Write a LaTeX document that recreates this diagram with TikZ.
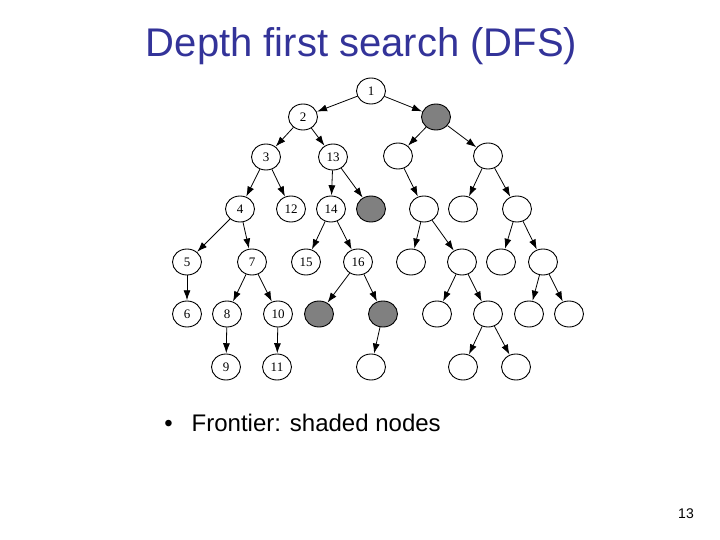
\documentclass[tikz,border=0pt]{standalone}
\usepackage{fontspec}
\setmainfont{Liberation Sans}
\newfontfamily\treefont{Liberation Serif}
\usetikzlibrary{shapes.geometric,arrows.meta}
\definecolor{titleblue}{RGB}{51,51,153}
\definecolor{shade}{RGB}{128,128,128}
\tikzset{
  tn/.style={ellipse,draw=black,line width=0.9pt,minimum width=29pt,minimum height=26pt,inner sep=0pt,font=\treefont\fontsize{13}{13}\selectfont,fill=white},
  sh/.style={tn,fill=shade},
  edge/.style={line width=0.8pt,-{Latex[length=10pt,width=7pt]},shorten >=0.3pt},
  txt/.style={inner sep=0pt,anchor=base west}
}
\begin{document}
\begin{tikzpicture}[x=1pt,y=-1pt]
\useasboundingbox (0,0) rectangle (720,540);
% title
\node[inner sep=0pt,anchor=base,text=titleblue,font=\fontsize{40}{48}\selectfont] (title) at (361.5,56.5) {Depth first search (DFS)};
% nodes
\node[tn] (n1) at (371,91) {1};
\node[tn] (n2) at (303,117) {2};
\node[sh] (gA) at (436,117) {};
\node[tn] (n3) at (266,157) {3};
\node[tn] (n13) at (333,157) {13};
\node[tn] (a1) at (398,156) {};
\node[tn] (a2) at (488,156) {};
\node[tn] (n4) at (240,209) {4};
\node[tn] (n12) at (291,209) {12};
\node[tn] (n14) at (331,209) {14};
\node[sh] (gB) at (371,209) {};
\node[tn] (b1) at (424,209) {};
\node[tn] (b2) at (463,209) {};
\node[tn] (b3) at (517,209) {};
\node[tn] (n5) at (187,262) {5};
\node[tn] (n7) at (252,262) {7};
\node[tn] (n15) at (306,262) {15};
\node[tn] (n16) at (358,262) {16};
\node[tn] (c1) at (411,262) {};
\node[tn] (c2) at (462,262) {};
\node[tn] (c3) at (501,262) {};
\node[tn] (c4) at (543,262) {};
\node[tn] (n6) at (187,314) {6};
\node[tn] (n8) at (227,314) {8};
\node[tn] (n10) at (278,314) {10};
\node[sh] (gC) at (319,314) {};
\node[sh] (gD) at (383,314) {};
\node[tn] (d1) at (437,314) {};
\node[tn] (d2) at (488,314) {};
\node[tn] (d3) at (529,314) {};
\node[tn] (d4) at (569,314) {};
\node[tn] (n9) at (226,367) {9};
\node[tn] (n11) at (277,367) {11};
\node[tn] (e1) at (371,367) {};
\node[tn] (e2) at (463,367) {};
\node[tn] (e3) at (516,367) {};
% edges
\foreach \a/\b in {n1/n2,n1/gA,n2/n3,n2/n13,n3/n4,n3/n12,n13/n14,n13/gB,gA/a1,gA/a2,a1/b1,a2/b2,a2/b3,n4/n5,n4/n7,n14/n15,n14/n16,b1/c1,b1/c2,b3/c3,b3/c4,n5/n6,n7/n8,n7/n10,n16/gC,n16/gD,c2/d1,c2/d2,c4/d3,c4/d4,n8/n9,n10/n11,gD/e1,d2/e2,d2/e3}
  \draw[edge] (\a) -- (\b);
% bullet text
\node[inner sep=0pt,anchor=base,font=\fontsize{24}{28}\selectfont] (bul) at (168.5,431.5) {•};
\node[txt,font=\fontsize{24}{28}\selectfont] (front) at (191.5,431.5) {Frontier: shaded nodes};
% page number
\node[inner sep=0pt,anchor=base,font=\fontsize{14}{16}\selectfont] (pg) at (686,518) {13};
\end{tikzpicture}
\end{document}
